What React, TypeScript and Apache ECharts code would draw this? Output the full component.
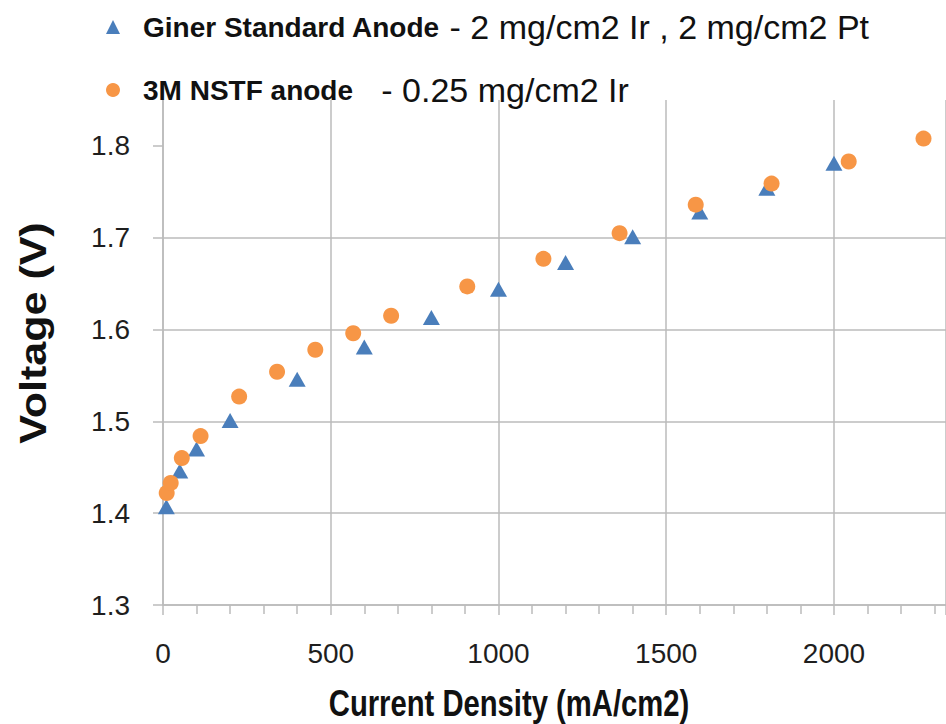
import React, { useEffect, useRef } from "react";
import * as echarts from "echarts";

// ---- data ----
const ginerX = [10, 50, 100, 200, 400, 600, 800, 1000, 1200, 1400, 1600, 1800, 2000];
const ginerV = [1.407, 1.446, 1.470, 1.501, 1.546, 1.581, 1.613, 1.644, 1.673, 1.701, 1.728, 1.754, 1.781];

const nstfX = [11, 23, 56, 112, 227, 340, 454, 567, 680, 907, 1134, 1361, 1588, 1814, 2044, 2267];
const nstfV = [1.422, 1.433, 1.460, 1.484, 1.527, 1.554, 1.578, 1.596, 1.615, 1.647, 1.677, 1.705, 1.736, 1.759, 1.783, 1.808];

const xTickLabels = [0, 500, 1000, 1500, 2000];
const yTickLabels = [1.3, 1.4, 1.5, 1.6, 1.7, 1.8];

const seriesNames = ["Giner Standard Anode", "3M NSTF anode"];
const legendDetails = [" - 2 mg/cm2 Ir , 2 mg/cm2 Pt", "   - 0.25 mg/cm2 Ir"];

const BLUE = "#4A7EBB";
const ORANGE = "#F79646";
const GRID = "#BBBBBB";
const SANS = "'Liberation Sans', Arial, sans-serif";

export default function App() {
  const ref = useRef<HTMLDivElement>(null);

  useEffect(() => {
    if (!ref.current) return;
    const chart = echarts.init(ref.current, null, { renderer: "svg" });
    const zip = (xs: number[], ys: number[]) => xs.map((x, i) => [x, ys[i]]);

    chart.setOption({
      animation: false,
      backgroundColor: "#ffffff",
      grid: { left: 163, top: 100, right: -20, bottom: 119, containLabel: false },
      legend: {
        orient: "vertical",
        left: 101,
        top: 5,
        padding: 5,
        itemWidth: 14,
        itemHeight: 14,
        itemGap: 29,
        selectedMode: false,
        data: seriesNames,
        formatter: (name: string) => {
          const i = seriesNames.indexOf(name);
          return `{s|}{b|${name}}{n|${legendDetails[i]}}`;
        },
        textStyle: {
          color: "#111111",
          rich: {
            s: { width: 18 },
            b: { fontFamily: SANS, fontWeight: "bold", fontSize: 28, color: "#111111" },
            n: { fontFamily: SANS, fontWeight: "normal", fontSize: 34, color: "#111111" },
          },
        },
      },
      xAxis: {
        type: "value",
        min: 0,
        max: 2334,
        interval: 500,
        axisLine: { show: true, lineStyle: { color: GRID, width: 1.5 } },
        axisTick: { show: true, length: 10, lineStyle: { color: GRID, width: 1.5 } },
        minorTick: { show: true, splitNumber: 5, length: 9, lineStyle: { color: GRID, width: 1.5 } },
        splitLine: { show: true, lineStyle: { color: GRID, width: 1.5 } },
        axisLabel: {
          customValues: xTickLabels,
          margin: 34,
          fontSize: 28,
          fontFamily: SANS,
          color: "#1e1e1e",
          formatter: (v: number) => String(v),
        },
      },
      yAxis: {
        type: "value",
        min: 1.3,
        max: 1.85,
        interval: 0.1,
        axisLine: { show: true, lineStyle: { color: GRID, width: 1.5 } },
        axisTick: { show: true, length: 10, customValues: yTickLabels, lineStyle: { color: GRID, width: 1.5 } },
        splitLine: { show: true, showMaxLine: false, lineStyle: { color: GRID, width: 1.5 } },
        axisLabel: {
          customValues: yTickLabels,
          margin: 33,
          fontSize: 28,
          fontFamily: SANS,
          color: "#1e1e1e",
          formatter: (v: number) => v.toFixed(1),
        },
      },
      graphic: [
        {
          type: "text",
          x: 33,
          y: 333,
          rotation: Math.PI / 2,
          scaleY: 0.88,
          style: {
            text: "Voltage (V)",
            fontFamily: SANS,
            fontWeight: "bold",
            fontSize: 43,
            fill: "#111111",
            align: "center",
            verticalAlign: "middle",
          },
        },
        {
          type: "text",
          x: 509,
          y: 703,
          scaleX: 0.79,
          style: {
            text: "Current Density (mA/cm2)",
            fontFamily: SANS,
            fontWeight: "bold",
            fontSize: 37,
            fill: "#111111",
            align: "center",
            verticalAlign: "middle",
          },
        },
      ],
      series: [
        {
          name: seriesNames[0],
          type: "scatter",
          symbol: "triangle",
          symbolSize: [17, 15],
          itemStyle: { color: BLUE, opacity: 1 },
          data: zip(ginerX, ginerV),
          z: 2,
        },
        {
          name: seriesNames[1],
          type: "scatter",
          symbol: "circle",
          symbolSize: 16,
          itemStyle: { color: ORANGE, opacity: 1 },
          data: zip(nstfX, nstfV),
          z: 3,
        },
      ],
    });

    return () => chart.dispose();
  }, []);

  return (
    <div
      ref={ref}
      style={{ position: "fixed", left: 0, top: 0, width: 946, height: 724, background: "#fff" }}
    />
  );
}
